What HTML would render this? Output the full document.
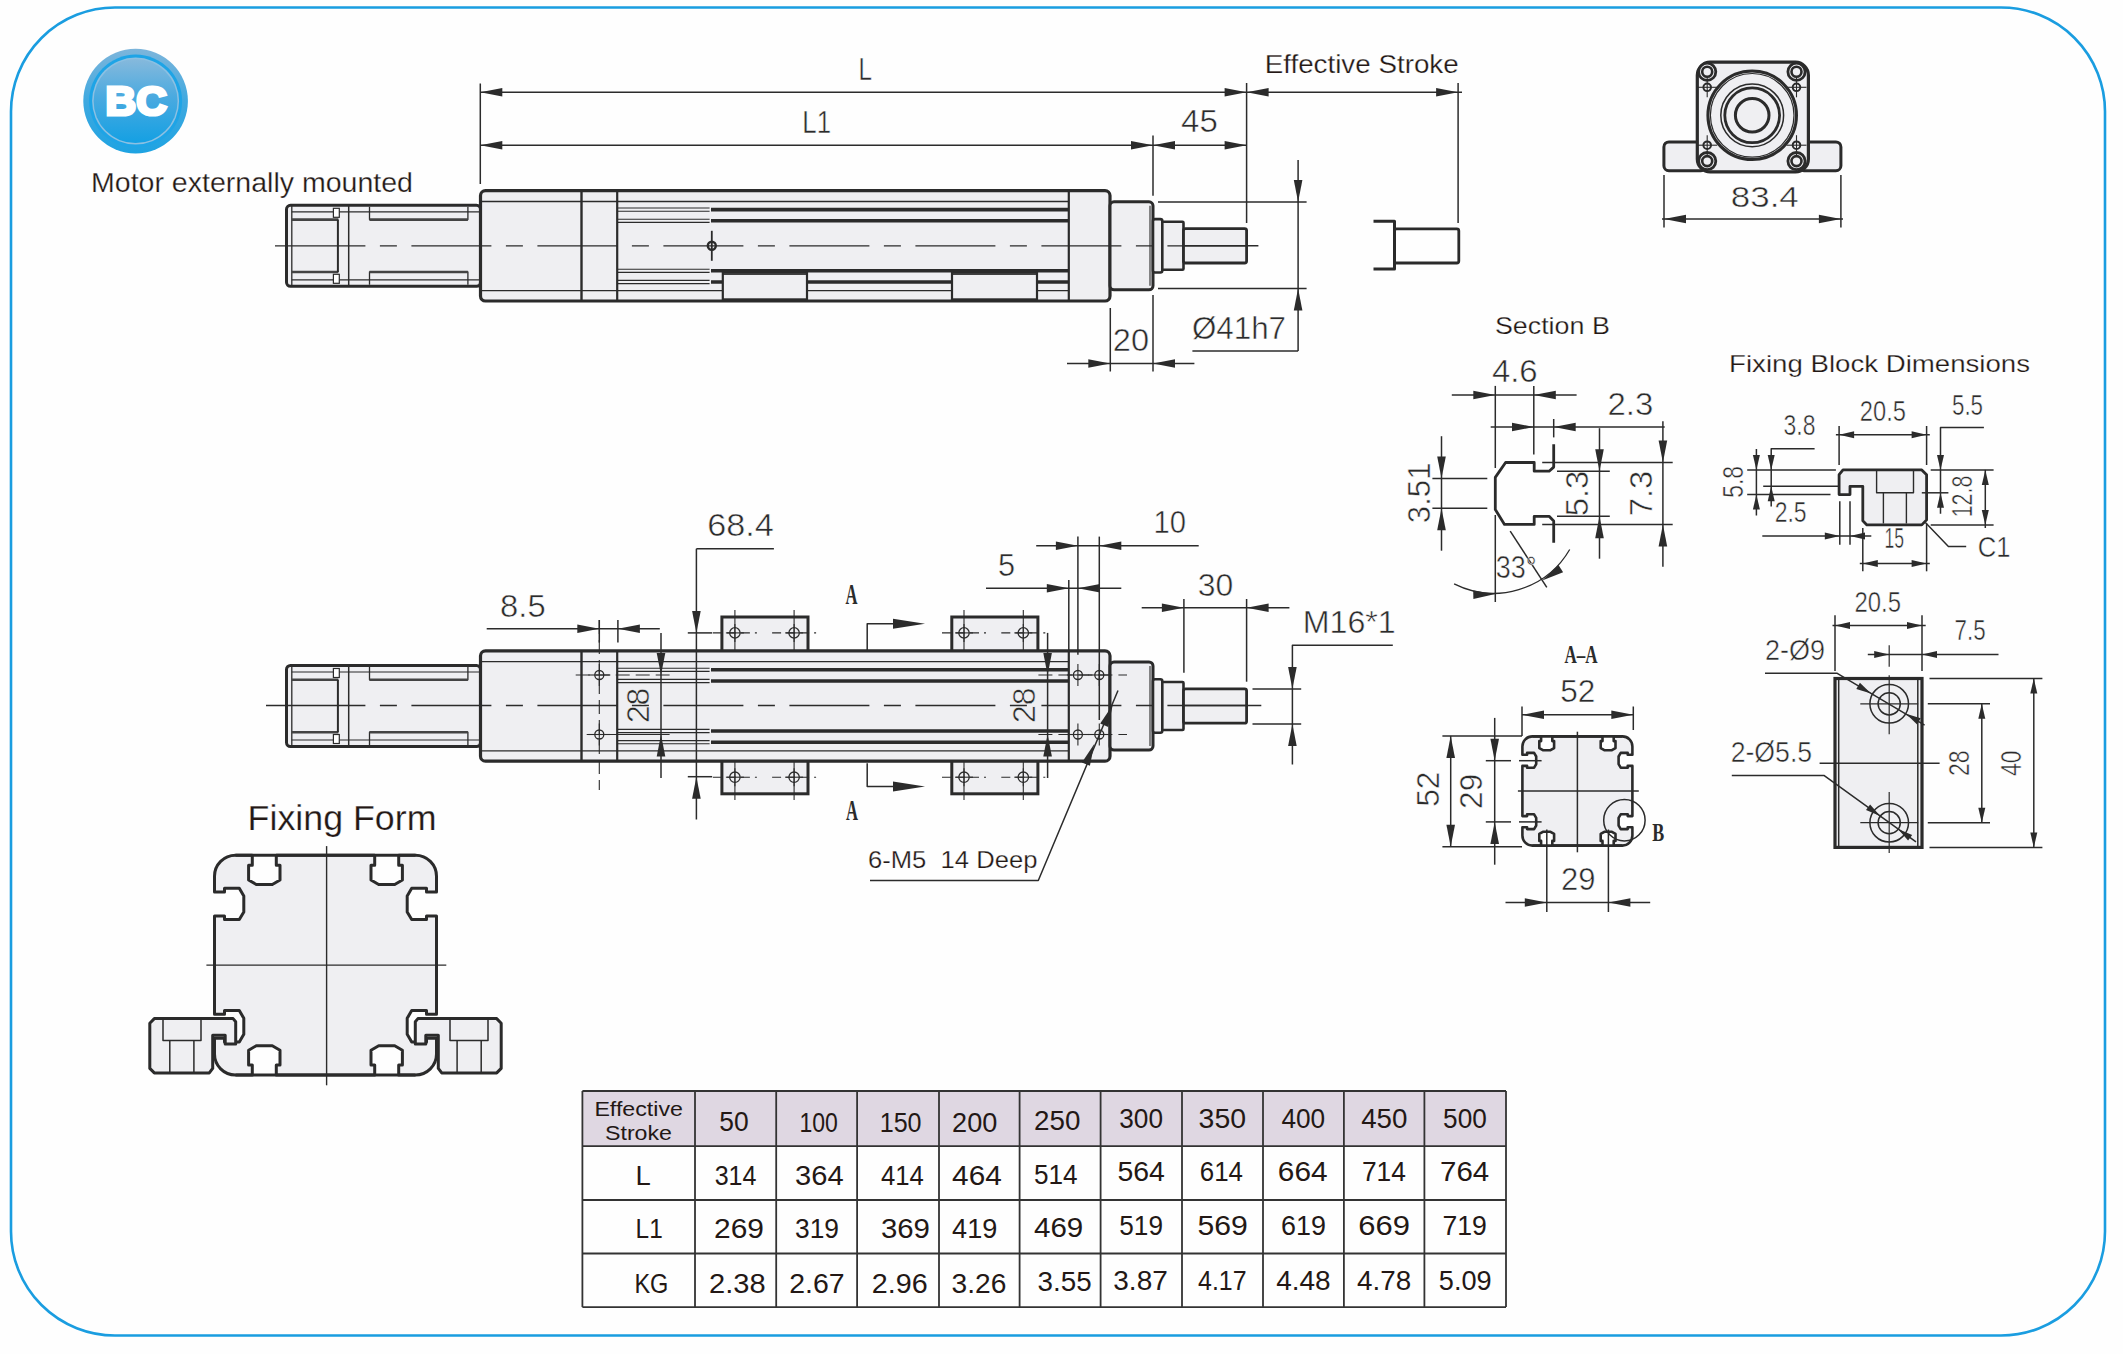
<!DOCTYPE html>
<html><head><meta charset="utf-8"><style>
html,body{margin:0;padding:0;background:#fefefe;width:2123px;height:1354px;overflow:hidden}
svg{display:block}
.dt{stroke:#fefefe;stroke-width:0.5px;paint-order:normal}
.lb{stroke:#fefefe;stroke-width:0.25px;paint-order:normal}
</style></head><body>
<svg width="2123" height="1354" viewBox="0 0 2123 1354">
<rect x="11" y="7.5" width="2094" height="1328" rx="104" fill="none" stroke="#1a9de0" stroke-width="2.6"/>
<defs>
<linearGradient id="gO" x1="0" y1="0" x2="0" y2="1"><stop offset="0" stop-color="#7db5db"/><stop offset="0.5" stop-color="#3fa9e0"/><stop offset="1" stop-color="#1ea3e2"/></linearGradient>
<linearGradient id="gI" x1="0" y1="0" x2="0" y2="1"><stop offset="0" stop-color="#86b9dc"/><stop offset="0.45" stop-color="#4aaae0"/><stop offset="1" stop-color="#14a0e3"/></linearGradient>
</defs>
<circle cx="135.6" cy="101.1" r="52.3" fill="url(#gO)"/>
<circle cx="135.6" cy="101.1" r="46.5" fill="#1ea4e6"/>
<circle cx="135.6" cy="101.1" r="43.5" fill="#8cc0e2"/>
<circle cx="135.6" cy="101.1" r="42" fill="url(#gI)"/>
<text x="105.6" y="114.6" font-family="Liberation Sans" font-size="40" font-weight="bold" fill="#ffffff" text-anchor="start" textLength="61.2" lengthAdjust="spacingAndGlyphs" stroke="#ffffff" stroke-width="3.2" stroke-linejoin="miter">BC</text>
<text x="91.0" y="192.0" font-family="Liberation Sans" font-size="27" font-weight="normal" fill="#231815" text-anchor="start" textLength="322" lengthAdjust="spacingAndGlyphs" class="lb">Motor externally mounted</text>
<rect x="286.5" y="205.3" width="194.0" height="81.0" rx="4" stroke="#2b2b2b" stroke-width="3" fill="#efeff2"/>
<line x1="291.8" y1="205.3" x2="291.8" y2="286.3" stroke="#2b2b2b" stroke-width="1.3" />
<line x1="291.8" y1="211.8" x2="479.0" y2="211.8" stroke="#2b2b2b" stroke-width="1.2" />
<line x1="291.8" y1="279.8" x2="479.0" y2="279.8" stroke="#2b2b2b" stroke-width="1.2" />
<line x1="291.8" y1="219.6" x2="338.4" y2="219.6" stroke="#444" stroke-width="2.6" />
<line x1="291.8" y1="272.0" x2="338.4" y2="272.0" stroke="#444" stroke-width="2.6" />
<line x1="337.9" y1="219.6" x2="337.9" y2="272.0" stroke="#2b2b2b" stroke-width="2" />
<rect x="333.4" y="208.3" width="5.9" height="9.0" rx="0" stroke="#2b2b2b" stroke-width="1.2" fill="#fff"/>
<rect x="333.4" y="274.3" width="5.9" height="9.0" rx="0" stroke="#2b2b2b" stroke-width="1.2" fill="#fff"/>
<line x1="348.7" y1="205.3" x2="348.7" y2="286.3" stroke="#2b2b2b" stroke-width="1.5" />
<path d="M369.5,206.8 L369.5,219.6 L467.9,219.6 L467.9,206.8" stroke="#2b2b2b" stroke-width="1.3" fill="none" stroke-linejoin="round" />
<line x1="369.5" y1="219.6" x2="467.9" y2="219.6" stroke="#444" stroke-width="2.6" />
<path d="M369.5,284.8 L369.5,272.0 L467.9,272.0 L467.9,284.8" stroke="#2b2b2b" stroke-width="1.3" fill="none" stroke-linejoin="round" />
<line x1="369.5" y1="272.0" x2="467.9" y2="272.0" stroke="#444" stroke-width="2.6" />
<rect x="480.5" y="190.6" width="629.5" height="110.4" rx="5" stroke="#2b2b2b" stroke-width="3.2" fill="#efeff2"/>
<line x1="480.5" y1="201.5" x2="1068.8" y2="201.5" stroke="#2b2b2b" stroke-width="1.3" />
<line x1="480.5" y1="290.6" x2="1068.8" y2="290.6" stroke="#2b2b2b" stroke-width="1.3" />
<line x1="581.5" y1="190.6" x2="581.5" y2="301.0" stroke="#2b2b2b" stroke-width="2.4" />
<line x1="617.2" y1="190.6" x2="617.2" y2="301.0" stroke="#2b2b2b" stroke-width="2.2" />
<line x1="1068.8" y1="190.6" x2="1068.8" y2="301.0" stroke="#2b2b2b" stroke-width="2.2" />
<line x1="617.2" y1="208.0" x2="709.6" y2="208.0" stroke="#2b2b2b" stroke-width="1.1" />
<line x1="617.2" y1="211.2" x2="709.6" y2="211.2" stroke="#2b2b2b" stroke-width="1.1" />
<line x1="711.0" y1="209.6" x2="1068.8" y2="209.6" stroke="#2b2b2b" stroke-width="3.6" />
<line x1="617.2" y1="219.2" x2="709.6" y2="219.2" stroke="#2b2b2b" stroke-width="1.1" />
<line x1="617.2" y1="222.4" x2="709.6" y2="222.4" stroke="#2b2b2b" stroke-width="1.1" />
<line x1="711.0" y1="220.8" x2="1068.8" y2="220.8" stroke="#2b2b2b" stroke-width="3.6" />
<line x1="617.2" y1="280.4" x2="709.6" y2="280.4" stroke="#2b2b2b" stroke-width="1.1" />
<line x1="617.2" y1="283.6" x2="709.6" y2="283.6" stroke="#2b2b2b" stroke-width="1.1" />
<line x1="711.0" y1="282.0" x2="1068.8" y2="282.0" stroke="#2b2b2b" stroke-width="3.6" />
<line x1="617.2" y1="269.2" x2="709.6" y2="269.2" stroke="#2b2b2b" stroke-width="1.1" />
<line x1="617.2" y1="272.4" x2="709.6" y2="272.4" stroke="#2b2b2b" stroke-width="1.1" />
<line x1="711.0" y1="270.8" x2="1068.8" y2="270.8" stroke="#2b2b2b" stroke-width="3.6" />
<circle cx="711.8" cy="245.8" r="4" fill="none" stroke="#2b2b2b" stroke-width="2.4"/>
<line x1="711.8" y1="230.8" x2="711.8" y2="260.8" stroke="#2b2b2b" stroke-width="1.8" />
<rect x="722.8" y="272.8" width="84.2" height="26.6" rx="0" stroke="#2b2b2b" stroke-width="2.2" fill="#efeff2"/>
<line x1="722.8" y1="274.4" x2="807.0" y2="274.4" stroke="#2b2b2b" stroke-width="1.0" />
<rect x="952.0" y="272.8" width="85.0" height="26.6" rx="0" stroke="#2b2b2b" stroke-width="2.2" fill="#efeff2"/>
<line x1="952.0" y1="274.4" x2="1037.0" y2="274.4" stroke="#2b2b2b" stroke-width="1.0" />
<rect x="1110.0" y="201.8" width="43.0" height="88.0" rx="4" stroke="#2b2b2b" stroke-width="3" fill="#efeff2"/>
<rect x="1153.0" y="219.1" width="9.3" height="53.4" rx="2" stroke="#2b2b2b" stroke-width="2.6" fill="#efeff2"/>
<rect x="1162.3" y="221.8" width="21.2" height="48.0" rx="1" stroke="#2b2b2b" stroke-width="2.6" fill="#efeff2"/>
<rect x="1183.5" y="228.6" width="63.1" height="34.4" rx="2" stroke="#2b2b2b" stroke-width="2.8" fill="#efeff2"/>
<line x1="1150.0" y1="205.8" x2="1150.0" y2="285.8" stroke="#2b2b2b" stroke-width="1.1" />
<path d="M275.0,245.8 H365.4 M379.9,245.8 H396.9 M411.4,245.8 H491.4 M505.9,245.8 H522.9 M537.4,245.8 H617.4 M631.9,245.8 H648.9 M663.4,245.8 H743.4 M757.9,245.8 H774.9 M789.4,245.8 H869.4 M883.9,245.8 H900.9 M915.4,245.8 H995.4 M1009.9,245.8 H1026.9 M1041.4,245.8 H1121.4 M1135.9,245.8 H1152.9 M1167.4,245.8 H1247.4" stroke="#2b2b2b" stroke-width="1.3"/>
<line x1="1183.0" y1="245.8" x2="1258.4" y2="245.8" stroke="#2b2b2b" stroke-width="1.5" />
<line x1="480.3" y1="83.5" x2="480.3" y2="184.0" stroke="#2b2b2b" stroke-width="1.5" />
<line x1="480.3" y1="92.2" x2="1246.6" y2="92.2" stroke="#2b2b2b" stroke-width="1.5" />
<path d="M480.3,92.2 L502.3,87.9 L502.3,96.5 Z" fill="#2b2b2b"/>
<path d="M1246.6,92.2 L1224.6,96.5 L1224.6,87.9 Z" fill="#2b2b2b"/>
<line x1="480.3" y1="145.2" x2="1153.0" y2="145.2" stroke="#2b2b2b" stroke-width="1.5" />
<path d="M480.3,145.2 L502.3,140.9 L502.3,149.5 Z" fill="#2b2b2b"/>
<path d="M1153.0,145.2 L1131.0,149.5 L1131.0,140.9 Z" fill="#2b2b2b"/>
<line x1="1246.6" y1="83.0" x2="1246.6" y2="223.0" stroke="#2b2b2b" stroke-width="1.5" />
<line x1="1153.0" y1="135.4" x2="1153.0" y2="195.7" stroke="#2b2b2b" stroke-width="1.5" />
<line x1="1153.0" y1="145.2" x2="1246.6" y2="145.2" stroke="#2b2b2b" stroke-width="1.5" />
<path d="M1153.0,145.2 L1175.0,140.9 L1175.0,149.5 Z" fill="#2b2b2b"/>
<path d="M1246.6,145.2 L1224.6,149.5 L1224.6,140.9 Z" fill="#2b2b2b"/>
<line x1="1246.6" y1="92.2" x2="1462.0" y2="92.2" stroke="#2b2b2b" stroke-width="1.5" />
<path d="M1246.6,92.2 L1268.6,87.9 L1268.6,96.5 Z" fill="#2b2b2b"/>
<path d="M1458.1,92.2 L1436.1,96.5 L1436.1,87.9 Z" fill="#2b2b2b"/>
<line x1="1458.1" y1="83.0" x2="1458.1" y2="223.0" stroke="#2b2b2b" stroke-width="1.5" />
<text x="858.5" y="80.3" font-family="Liberation Sans" font-size="31.5" font-weight="normal" fill="#2b2b2b" text-anchor="start" textLength="13.5" lengthAdjust="spacingAndGlyphs" class="dt">L</text>
<text x="802.3" y="132.8" font-family="Liberation Sans" font-size="31.5" font-weight="normal" fill="#2b2b2b" text-anchor="start" textLength="28.7" lengthAdjust="spacingAndGlyphs" class="dt">L1</text>
<text x="1181.1" y="132.4" font-family="Liberation Sans" font-size="31" font-weight="normal" fill="#2b2b2b" text-anchor="start" textLength="36.7" lengthAdjust="spacingAndGlyphs" class="dt">45</text>
<text x="1264.7" y="72.6" font-family="Liberation Sans" font-size="25.5" font-weight="normal" fill="#231815" text-anchor="start" textLength="194" lengthAdjust="spacingAndGlyphs" class="lb">Effective Stroke</text>
<path d="M1373.5,221.3 L1394.5,221.3 L1394.5,269.0 L1373.5,269.0" stroke="#2b2b2b" stroke-width="3" fill="none" stroke-linejoin="round" />
<rect x="1394.5" y="228.8" width="64.3" height="34.2" rx="2" stroke="#2b2b2b" stroke-width="2.8" fill="none"/>
<line x1="1158.0" y1="202.0" x2="1306.6" y2="202.0" stroke="#2b2b2b" stroke-width="1.5" />
<line x1="1158.0" y1="288.6" x2="1306.6" y2="288.6" stroke="#2b2b2b" stroke-width="1.5" />
<line x1="1298.1" y1="160.0" x2="1298.1" y2="350.9" stroke="#2b2b2b" stroke-width="1.5" />
<path d="M1298.1,202.0 L1293.8,180.0 L1302.4,180.0 Z" fill="#2b2b2b"/>
<path d="M1298.1,288.6 L1302.4,310.6 L1293.8,310.6 Z" fill="#2b2b2b"/>
<line x1="1192.4" y1="350.9" x2="1298.1" y2="350.9" stroke="#2b2b2b" stroke-width="1.5" />
<text x="1191.9" y="338.8" font-family="Liberation Sans" font-size="31" font-weight="normal" fill="#2b2b2b" text-anchor="start" textLength="94.1" lengthAdjust="spacingAndGlyphs" class="dt">&#216;41h7</text>
<line x1="1110.3" y1="308.0" x2="1110.3" y2="371.5" stroke="#2b2b2b" stroke-width="1.5" />
<line x1="1153.0" y1="295.0" x2="1153.0" y2="371.5" stroke="#2b2b2b" stroke-width="1.5" />
<line x1="1067.0" y1="363.5" x2="1194.4" y2="363.5" stroke="#2b2b2b" stroke-width="1.5" />
<path d="M1110.3,363.5 L1088.3,367.8 L1088.3,359.2 Z" fill="#2b2b2b"/>
<path d="M1153.0,363.5 L1175.0,359.2 L1175.0,367.8 Z" fill="#2b2b2b"/>
<text x="1112.8" y="350.9" font-family="Liberation Sans" font-size="31" font-weight="normal" fill="#2b2b2b" text-anchor="start" textLength="36.2" lengthAdjust="spacingAndGlyphs" class="dt">20</text>
<rect x="1663.9" y="141.9" width="42" height="28.8" rx="5" fill="#efeff2" stroke="#2b2b2b" stroke-width="3"/>
<rect x="1799" y="141.9" width="41.9" height="28.8" rx="5" fill="#efeff2" stroke="#2b2b2b" stroke-width="3"/>
<rect x="1697.3" y="62.2" width="111.1" height="109.7" rx="13" stroke="#2b2b2b" stroke-width="3.2" fill="#efeff2"/>
<circle cx="1707.2" cy="71.8" r="8.6" stroke="#2b2b2b" stroke-width="2.8" fill="#efeff2"/>
<circle cx="1707.2" cy="71.8" r="5.0" stroke="#2b2b2b" stroke-width="2.6" fill="none"/>
<circle cx="1707.2" cy="161.1" r="8.6" stroke="#2b2b2b" stroke-width="2.8" fill="#efeff2"/>
<circle cx="1707.2" cy="161.1" r="5.0" stroke="#2b2b2b" stroke-width="2.6" fill="none"/>
<circle cx="1707.2" cy="87.3" r="3.8" stroke="#2b2b2b" stroke-width="2.0" fill="none"/>
<line x1="1707.2" y1="77.3" x2="1707.2" y2="97.3" stroke="#2b2b2b" stroke-width="1.1" />
<line x1="1697.2" y1="87.3" x2="1717.2" y2="87.3" stroke="#2b2b2b" stroke-width="1.1" />
<circle cx="1707.2" cy="145.2" r="3.8" stroke="#2b2b2b" stroke-width="2.0" fill="none"/>
<line x1="1707.2" y1="135.2" x2="1707.2" y2="155.2" stroke="#2b2b2b" stroke-width="1.1" />
<line x1="1697.2" y1="145.2" x2="1717.2" y2="145.2" stroke="#2b2b2b" stroke-width="1.1" />
<circle cx="1796.5" cy="71.8" r="8.6" stroke="#2b2b2b" stroke-width="2.8" fill="#efeff2"/>
<circle cx="1796.5" cy="71.8" r="5.0" stroke="#2b2b2b" stroke-width="2.6" fill="none"/>
<circle cx="1796.5" cy="161.1" r="8.6" stroke="#2b2b2b" stroke-width="2.8" fill="#efeff2"/>
<circle cx="1796.5" cy="161.1" r="5.0" stroke="#2b2b2b" stroke-width="2.6" fill="none"/>
<circle cx="1796.5" cy="87.3" r="3.8" stroke="#2b2b2b" stroke-width="2.0" fill="none"/>
<line x1="1796.5" y1="77.3" x2="1796.5" y2="97.3" stroke="#2b2b2b" stroke-width="1.1" />
<line x1="1786.5" y1="87.3" x2="1806.5" y2="87.3" stroke="#2b2b2b" stroke-width="1.1" />
<circle cx="1796.5" cy="145.2" r="3.8" stroke="#2b2b2b" stroke-width="2.0" fill="none"/>
<line x1="1796.5" y1="135.2" x2="1796.5" y2="155.2" stroke="#2b2b2b" stroke-width="1.1" />
<line x1="1786.5" y1="145.2" x2="1806.5" y2="145.2" stroke="#2b2b2b" stroke-width="1.1" />
<circle cx="1752.2" cy="115.3" r="44.3" stroke="#2b2b2b" stroke-width="3" fill="none"/>
<circle cx="1752.2" cy="115.3" r="41.8" stroke="#2b2b2b" stroke-width="1.2" fill="none"/>
<circle cx="1752.2" cy="115.3" r="31.4" stroke="#2b2b2b" stroke-width="1.5" fill="none"/>
<circle cx="1752.2" cy="115.3" r="27.4" stroke="#2b2b2b" stroke-width="2.8" fill="none"/>
<circle cx="1752.2" cy="115.3" r="16.8" stroke="#2b2b2b" stroke-width="3" fill="none"/>
<line x1="1664.0" y1="175.0" x2="1664.0" y2="227.6" stroke="#2b2b2b" stroke-width="1.5" />
<line x1="1840.9" y1="175.0" x2="1840.9" y2="227.6" stroke="#2b2b2b" stroke-width="1.5" />
<line x1="1662.0" y1="219.0" x2="1843.0" y2="219.0" stroke="#2b2b2b" stroke-width="1.5" />
<path d="M1664.0,219.0 L1686.0,214.7 L1686.0,223.3 Z" fill="#2b2b2b"/>
<path d="M1840.9,219.0 L1818.9,223.3 L1818.9,214.7 Z" fill="#2b2b2b"/>
<text x="1730.8" y="206.6" font-family="Liberation Sans" font-size="30" font-weight="normal" fill="#2b2b2b" text-anchor="start" textLength="68.0" lengthAdjust="spacingAndGlyphs" class="dt">83.4</text>
<rect x="721.9" y="617.0" width="86.1" height="35.0" rx="0" stroke="#2b2b2b" stroke-width="3" fill="#efeff2"/>
<rect x="721.9" y="760.0" width="86.1" height="33.8" rx="0" stroke="#2b2b2b" stroke-width="3" fill="#efeff2"/>
<circle cx="734.9" cy="632.9" r="5.2" stroke="#2b2b2b" stroke-width="1.3" fill="none"/>
<line x1="725.9" y1="632.9" x2="743.9" y2="632.9" stroke="#2b2b2b" stroke-width="1.1" />
<line x1="734.9" y1="623.9" x2="734.9" y2="641.9" stroke="#2b2b2b" stroke-width="1.1" />
<circle cx="734.9" cy="777.2" r="5.2" stroke="#2b2b2b" stroke-width="1.3" fill="none"/>
<line x1="725.9" y1="777.2" x2="743.9" y2="777.2" stroke="#2b2b2b" stroke-width="1.1" />
<line x1="734.9" y1="768.2" x2="734.9" y2="786.2" stroke="#2b2b2b" stroke-width="1.1" />
<line x1="712.9" y1="632.9" x2="756.9" y2="632.9" stroke="#2b2b2b" stroke-width="1.1" stroke-dasharray="9 5"/>
<line x1="712.9" y1="777.2" x2="756.9" y2="777.2" stroke="#2b2b2b" stroke-width="1.1" stroke-dasharray="9 5"/>
<line x1="734.9" y1="610.0" x2="734.9" y2="656.0" stroke="#2b2b2b" stroke-width="1.1" />
<line x1="734.9" y1="756.0" x2="734.9" y2="800.0" stroke="#2b2b2b" stroke-width="1.1" />
<circle cx="794.1" cy="632.9" r="5.2" stroke="#2b2b2b" stroke-width="1.3" fill="none"/>
<line x1="785.1" y1="632.9" x2="803.1" y2="632.9" stroke="#2b2b2b" stroke-width="1.1" />
<line x1="794.1" y1="623.9" x2="794.1" y2="641.9" stroke="#2b2b2b" stroke-width="1.1" />
<circle cx="794.1" cy="777.2" r="5.2" stroke="#2b2b2b" stroke-width="1.3" fill="none"/>
<line x1="785.1" y1="777.2" x2="803.1" y2="777.2" stroke="#2b2b2b" stroke-width="1.1" />
<line x1="794.1" y1="768.2" x2="794.1" y2="786.2" stroke="#2b2b2b" stroke-width="1.1" />
<line x1="772.1" y1="632.9" x2="816.1" y2="632.9" stroke="#2b2b2b" stroke-width="1.1" stroke-dasharray="9 5"/>
<line x1="772.1" y1="777.2" x2="816.1" y2="777.2" stroke="#2b2b2b" stroke-width="1.1" stroke-dasharray="9 5"/>
<line x1="794.1" y1="610.0" x2="794.1" y2="656.0" stroke="#2b2b2b" stroke-width="1.1" />
<line x1="794.1" y1="756.0" x2="794.1" y2="800.0" stroke="#2b2b2b" stroke-width="1.1" />
<rect x="951.8" y="617.0" width="86.1" height="35.0" rx="0" stroke="#2b2b2b" stroke-width="3" fill="#efeff2"/>
<rect x="951.8" y="760.0" width="86.1" height="33.8" rx="0" stroke="#2b2b2b" stroke-width="3" fill="#efeff2"/>
<circle cx="964.0" cy="632.9" r="5.2" stroke="#2b2b2b" stroke-width="1.3" fill="none"/>
<line x1="955.0" y1="632.9" x2="973.0" y2="632.9" stroke="#2b2b2b" stroke-width="1.1" />
<line x1="964.0" y1="623.9" x2="964.0" y2="641.9" stroke="#2b2b2b" stroke-width="1.1" />
<circle cx="964.0" cy="777.2" r="5.2" stroke="#2b2b2b" stroke-width="1.3" fill="none"/>
<line x1="955.0" y1="777.2" x2="973.0" y2="777.2" stroke="#2b2b2b" stroke-width="1.1" />
<line x1="964.0" y1="768.2" x2="964.0" y2="786.2" stroke="#2b2b2b" stroke-width="1.1" />
<line x1="942.0" y1="632.9" x2="986.0" y2="632.9" stroke="#2b2b2b" stroke-width="1.1" stroke-dasharray="9 5"/>
<line x1="942.0" y1="777.2" x2="986.0" y2="777.2" stroke="#2b2b2b" stroke-width="1.1" stroke-dasharray="9 5"/>
<line x1="964.0" y1="610.0" x2="964.0" y2="656.0" stroke="#2b2b2b" stroke-width="1.1" />
<line x1="964.0" y1="756.0" x2="964.0" y2="800.0" stroke="#2b2b2b" stroke-width="1.1" />
<circle cx="1023.3" cy="632.9" r="5.2" stroke="#2b2b2b" stroke-width="1.3" fill="none"/>
<line x1="1014.3" y1="632.9" x2="1032.3" y2="632.9" stroke="#2b2b2b" stroke-width="1.1" />
<line x1="1023.3" y1="623.9" x2="1023.3" y2="641.9" stroke="#2b2b2b" stroke-width="1.1" />
<circle cx="1023.3" cy="777.2" r="5.2" stroke="#2b2b2b" stroke-width="1.3" fill="none"/>
<line x1="1014.3" y1="777.2" x2="1032.3" y2="777.2" stroke="#2b2b2b" stroke-width="1.1" />
<line x1="1023.3" y1="768.2" x2="1023.3" y2="786.2" stroke="#2b2b2b" stroke-width="1.1" />
<line x1="1001.3" y1="632.9" x2="1045.3" y2="632.9" stroke="#2b2b2b" stroke-width="1.1" stroke-dasharray="9 5"/>
<line x1="1001.3" y1="777.2" x2="1045.3" y2="777.2" stroke="#2b2b2b" stroke-width="1.1" stroke-dasharray="9 5"/>
<line x1="1023.3" y1="610.0" x2="1023.3" y2="656.0" stroke="#2b2b2b" stroke-width="1.1" />
<line x1="1023.3" y1="756.0" x2="1023.3" y2="800.0" stroke="#2b2b2b" stroke-width="1.1" />
<rect x="286.5" y="665.5" width="194.0" height="81.0" rx="4" stroke="#2b2b2b" stroke-width="3" fill="#efeff2"/>
<line x1="291.8" y1="665.5" x2="291.8" y2="746.5" stroke="#2b2b2b" stroke-width="1.3" />
<line x1="291.8" y1="672.0" x2="479.0" y2="672.0" stroke="#2b2b2b" stroke-width="1.2" />
<line x1="291.8" y1="740.0" x2="479.0" y2="740.0" stroke="#2b2b2b" stroke-width="1.2" />
<line x1="291.8" y1="679.8" x2="338.4" y2="679.8" stroke="#444" stroke-width="2.6" />
<line x1="291.8" y1="732.2" x2="338.4" y2="732.2" stroke="#444" stroke-width="2.6" />
<line x1="337.9" y1="679.8" x2="337.9" y2="732.2" stroke="#2b2b2b" stroke-width="2" />
<rect x="333.4" y="668.5" width="5.9" height="9.0" rx="0" stroke="#2b2b2b" stroke-width="1.2" fill="#fff"/>
<rect x="333.4" y="734.5" width="5.9" height="9.0" rx="0" stroke="#2b2b2b" stroke-width="1.2" fill="#fff"/>
<line x1="348.7" y1="665.5" x2="348.7" y2="746.5" stroke="#2b2b2b" stroke-width="1.5" />
<path d="M369.5,667.0 L369.5,679.8 L467.9,679.8 L467.9,667.0" stroke="#2b2b2b" stroke-width="1.3" fill="none" stroke-linejoin="round" />
<line x1="369.5" y1="679.8" x2="467.9" y2="679.8" stroke="#444" stroke-width="2.6" />
<path d="M369.5,745.0 L369.5,732.2 L467.9,732.2 L467.9,745.0" stroke="#2b2b2b" stroke-width="1.3" fill="none" stroke-linejoin="round" />
<line x1="369.5" y1="732.2" x2="467.9" y2="732.2" stroke="#444" stroke-width="2.6" />
<rect x="480.5" y="650.8" width="629.5" height="110.4" rx="5" stroke="#2b2b2b" stroke-width="3.2" fill="#efeff2"/>
<line x1="480.5" y1="661.7" x2="1068.8" y2="661.7" stroke="#2b2b2b" stroke-width="1.3" />
<line x1="480.5" y1="750.8" x2="1068.8" y2="750.8" stroke="#2b2b2b" stroke-width="1.3" />
<line x1="581.5" y1="650.8" x2="581.5" y2="761.2" stroke="#2b2b2b" stroke-width="2.4" />
<line x1="617.2" y1="650.8" x2="617.2" y2="761.2" stroke="#2b2b2b" stroke-width="2.2" />
<line x1="1068.8" y1="650.8" x2="1068.8" y2="761.2" stroke="#2b2b2b" stroke-width="2.2" />
<line x1="617.2" y1="668.2" x2="709.6" y2="668.2" stroke="#2b2b2b" stroke-width="1.1" />
<line x1="617.2" y1="671.4" x2="709.6" y2="671.4" stroke="#2b2b2b" stroke-width="1.1" />
<line x1="711.0" y1="669.8" x2="1068.8" y2="669.8" stroke="#2b2b2b" stroke-width="3.6" />
<line x1="617.2" y1="679.4" x2="709.6" y2="679.4" stroke="#2b2b2b" stroke-width="1.1" />
<line x1="617.2" y1="682.6" x2="709.6" y2="682.6" stroke="#2b2b2b" stroke-width="1.1" />
<line x1="711.0" y1="681.0" x2="1068.8" y2="681.0" stroke="#2b2b2b" stroke-width="3.6" />
<line x1="617.2" y1="740.6" x2="709.6" y2="740.6" stroke="#2b2b2b" stroke-width="1.1" />
<line x1="617.2" y1="743.8" x2="709.6" y2="743.8" stroke="#2b2b2b" stroke-width="1.1" />
<line x1="711.0" y1="742.2" x2="1068.8" y2="742.2" stroke="#2b2b2b" stroke-width="3.6" />
<line x1="617.2" y1="729.4" x2="709.6" y2="729.4" stroke="#2b2b2b" stroke-width="1.1" />
<line x1="617.2" y1="732.6" x2="709.6" y2="732.6" stroke="#2b2b2b" stroke-width="1.1" />
<line x1="711.0" y1="731.0" x2="1068.8" y2="731.0" stroke="#2b2b2b" stroke-width="3.6" />
<rect x="1110.0" y="662.0" width="43.0" height="88.0" rx="4" stroke="#2b2b2b" stroke-width="3" fill="#efeff2"/>
<rect x="1153.0" y="679.3" width="9.3" height="53.4" rx="2" stroke="#2b2b2b" stroke-width="2.6" fill="#efeff2"/>
<rect x="1162.3" y="682.0" width="21.2" height="48.0" rx="1" stroke="#2b2b2b" stroke-width="2.6" fill="#efeff2"/>
<rect x="1183.5" y="688.8" width="63.1" height="34.4" rx="2" stroke="#2b2b2b" stroke-width="2.8" fill="#efeff2"/>
<line x1="1150.0" y1="666.0" x2="1150.0" y2="746.0" stroke="#2b2b2b" stroke-width="1.1" />
<path d="M266.0,705.5 H365.4 M379.9,705.5 H396.9 M411.4,705.5 H491.4 M505.9,705.5 H522.9 M537.4,705.5 H617.4 M631.9,705.5 H648.9 M663.4,705.5 H743.4 M757.9,705.5 H774.9 M789.4,705.5 H869.4 M883.9,705.5 H900.9 M915.4,705.5 H995.4 M1009.9,705.5 H1026.9 M1041.4,705.5 H1121.4 M1135.9,705.5 H1152.9 M1167.4,705.5 H1247.4" stroke="#2b2b2b" stroke-width="1.3"/>
<line x1="1183.0" y1="705.5" x2="1261.3" y2="705.5" stroke="#2b2b2b" stroke-width="1.5" />
<circle cx="599.3" cy="675.0" r="4.5" stroke="#2b2b2b" stroke-width="1.3" fill="none"/>
<line x1="588.3" y1="675.0" x2="610.3" y2="675.0" stroke="#2b2b2b" stroke-width="1.1" />
<line x1="599.3" y1="664.0" x2="599.3" y2="686.0" stroke="#2b2b2b" stroke-width="1.1" />
<circle cx="1077.9" cy="675.0" r="4.5" stroke="#2b2b2b" stroke-width="1.3" fill="none"/>
<line x1="1066.9" y1="675.0" x2="1088.9" y2="675.0" stroke="#2b2b2b" stroke-width="1.1" />
<line x1="1077.9" y1="664.0" x2="1077.9" y2="686.0" stroke="#2b2b2b" stroke-width="1.1" />
<circle cx="1099.3" cy="675.0" r="4.5" stroke="#2b2b2b" stroke-width="1.3" fill="none"/>
<line x1="1088.3" y1="675.0" x2="1110.3" y2="675.0" stroke="#2b2b2b" stroke-width="1.1" />
<line x1="1099.3" y1="664.0" x2="1099.3" y2="686.0" stroke="#2b2b2b" stroke-width="1.1" />
<circle cx="599.3" cy="734.5" r="4.5" stroke="#2b2b2b" stroke-width="1.3" fill="none"/>
<line x1="588.3" y1="734.5" x2="610.3" y2="734.5" stroke="#2b2b2b" stroke-width="1.1" />
<line x1="599.3" y1="723.5" x2="599.3" y2="745.5" stroke="#2b2b2b" stroke-width="1.1" />
<circle cx="1077.9" cy="734.5" r="4.5" stroke="#2b2b2b" stroke-width="1.3" fill="none"/>
<line x1="1066.9" y1="734.5" x2="1088.9" y2="734.5" stroke="#2b2b2b" stroke-width="1.1" />
<line x1="1077.9" y1="723.5" x2="1077.9" y2="745.5" stroke="#2b2b2b" stroke-width="1.1" />
<circle cx="1099.3" cy="734.5" r="4.5" stroke="#2b2b2b" stroke-width="1.3" fill="none"/>
<line x1="1088.3" y1="734.5" x2="1110.3" y2="734.5" stroke="#2b2b2b" stroke-width="1.1" />
<line x1="1099.3" y1="723.5" x2="1099.3" y2="745.5" stroke="#2b2b2b" stroke-width="1.1" />
<line x1="599.3" y1="620.0" x2="599.3" y2="790.0" stroke="#2b2b2b" stroke-width="1.1" stroke-dasharray="14 6"/>
<line x1="575.7" y1="675.0" x2="669.6" y2="675.0" stroke="#2b2b2b" stroke-width="1.1" stroke-dasharray="14 6"/>
<line x1="586.7" y1="734.5" x2="669.6" y2="734.5" stroke="#2b2b2b" stroke-width="1.1" />
<line x1="1038.4" y1="675.0" x2="1127.0" y2="675.0" stroke="#2b2b2b" stroke-width="1.1" stroke-dasharray="14 6"/>
<line x1="1038.4" y1="734.5" x2="1127.0" y2="734.5" stroke="#2b2b2b" stroke-width="1.1" stroke-dasharray="14 6"/>
<line x1="486.7" y1="628.7" x2="659.8" y2="628.7" stroke="#2b2b2b" stroke-width="1.5" />
<line x1="599.3" y1="620.0" x2="599.3" y2="642.6" stroke="#2b2b2b" stroke-width="1.5" />
<line x1="617.9" y1="620.0" x2="617.9" y2="642.6" stroke="#2b2b2b" stroke-width="1.5" />
<path d="M599.3,628.7 L577.3,633.0 L577.3,624.4 Z" fill="#2b2b2b"/>
<path d="M617.9,628.7 L639.9,624.4 L639.9,633.0 Z" fill="#2b2b2b"/>
<text x="500.1" y="616.5" font-family="Liberation Sans" font-size="31" font-weight="normal" fill="#2b2b2b" text-anchor="start" textLength="45.6" lengthAdjust="spacingAndGlyphs" class="dt">8.5</text>
<line x1="661.0" y1="632.9" x2="661.0" y2="777.9" stroke="#2b2b2b" stroke-width="1.5" />
<path d="M661.0,675.0 L656.7,653.0 L665.3,653.0 Z" fill="#2b2b2b"/>
<path d="M661.0,734.5 L665.3,756.5 L656.7,756.5 Z" fill="#2b2b2b"/>
<text x="649.1" y="723.1" font-family="Liberation Sans" font-size="31" font-weight="normal" fill="#2b2b2b" text-anchor="start" textLength="35.4" lengthAdjust="spacingAndGlyphs" transform="rotate(-90 649.1 723.1)" class="dt">28</text>
<line x1="696.4" y1="548.8" x2="696.4" y2="819.4" stroke="#2b2b2b" stroke-width="1.5" />
<path d="M696.4,632.9 L692.1,610.9 L700.7,610.9 Z" fill="#2b2b2b"/>
<path d="M696.4,776.7 L700.7,798.7 L692.1,798.7 Z" fill="#2b2b2b"/>
<line x1="687.8" y1="632.9" x2="712.2" y2="632.9" stroke="#2b2b2b" stroke-width="1.5" />
<line x1="687.8" y1="776.7" x2="712.2" y2="776.7" stroke="#2b2b2b" stroke-width="1.5" />
<line x1="696.4" y1="548.8" x2="773.9" y2="548.8" stroke="#2b2b2b" stroke-width="1.5" />
<text x="707.3" y="536.1" font-family="Liberation Sans" font-size="31" font-weight="normal" fill="#2b2b2b" text-anchor="start" textLength="66.6" lengthAdjust="spacingAndGlyphs" class="dt">68.4</text>
<path d="M867.2,649.9 L867.2,623.8 L905.0,623.8" stroke="#2b2b2b" stroke-width="1.5" fill="none" stroke-linejoin="round" />
<path d="M925.0,623.8 L893.0,628.8 L893.0,618.8 Z" fill="#2b2b2b"/>
<path d="M867.2,763.3 L867.2,786.4 L905.0,786.4" stroke="#2b2b2b" stroke-width="1.5" fill="none" stroke-linejoin="round" />
<path d="M925.0,786.4 L893.0,791.4 L893.0,781.4 Z" fill="#2b2b2b"/>
<text x="845.4" y="603.6" font-family="Liberation Serif" font-size="29" font-weight="bold" fill="#2b2b2b" text-anchor="start" textLength="12" lengthAdjust="spacingAndGlyphs" >A</text>
<text x="845.9" y="819.8" font-family="Liberation Serif" font-size="29" font-weight="bold" fill="#2b2b2b" text-anchor="start" textLength="12" lengthAdjust="spacingAndGlyphs" >A</text>
<line x1="1047.6" y1="632.9" x2="1047.6" y2="778.0" stroke="#2b2b2b" stroke-width="1.5" />
<path d="M1047.6,675.0 L1043.3,653.0 L1051.9,653.0 Z" fill="#2b2b2b"/>
<path d="M1047.6,734.5 L1051.9,756.5 L1043.3,756.5 Z" fill="#2b2b2b"/>
<text x="1034.9" y="723.0" font-family="Liberation Sans" font-size="31" font-weight="normal" fill="#2b2b2b" text-anchor="start" textLength="35.5" lengthAdjust="spacingAndGlyphs" transform="rotate(-90 1034.9 723.0)" class="dt">28</text>
<line x1="986.0" y1="588.3" x2="1121.3" y2="588.3" stroke="#2b2b2b" stroke-width="1.5" />
<line x1="1068.8" y1="580.0" x2="1068.8" y2="651.0" stroke="#2b2b2b" stroke-width="1.5" />
<line x1="1077.9" y1="536.6" x2="1077.9" y2="654.8" stroke="#2b2b2b" stroke-width="1.5" />
<line x1="1099.3" y1="536.6" x2="1099.3" y2="720.0" stroke="#2b2b2b" stroke-width="1.5" />
<path d="M1068.8,588.3 L1046.8,592.6 L1046.8,584.0 Z" fill="#2b2b2b"/>
<path d="M1077.9,588.3 L1099.9,584.0 L1099.9,592.6 Z" fill="#2b2b2b"/>
<text x="998.1" y="575.6" font-family="Liberation Sans" font-size="31" font-weight="normal" fill="#2b2b2b" text-anchor="start" textLength="17.1" lengthAdjust="spacingAndGlyphs" class="dt">5</text>
<line x1="1036.2" y1="545.8" x2="1198.7" y2="545.8" stroke="#2b2b2b" stroke-width="1.5" />
<path d="M1077.9,545.8 L1055.9,550.1 L1055.9,541.5 Z" fill="#2b2b2b"/>
<path d="M1099.3,545.8 L1121.3,541.5 L1121.3,550.1 Z" fill="#2b2b2b"/>
<text x="1153.5" y="532.5" font-family="Liberation Sans" font-size="31" font-weight="normal" fill="#2b2b2b" text-anchor="start" textLength="32.5" lengthAdjust="spacingAndGlyphs" class="dt">10</text>
<line x1="1183.9" y1="599.0" x2="1183.9" y2="672.8" stroke="#2b2b2b" stroke-width="1.5" />
<line x1="1246.6" y1="599.0" x2="1246.6" y2="681.7" stroke="#2b2b2b" stroke-width="1.5" />
<line x1="1141.7" y1="607.8" x2="1289.4" y2="607.8" stroke="#2b2b2b" stroke-width="1.5" />
<path d="M1183.9,607.8 L1161.9,612.1 L1161.9,603.5 Z" fill="#2b2b2b"/>
<path d="M1246.6,607.8 L1268.6,603.5 L1268.6,612.1 Z" fill="#2b2b2b"/>
<text x="1197.8" y="596.0" font-family="Liberation Sans" font-size="31" font-weight="normal" fill="#2b2b2b" text-anchor="start" textLength="35.5" lengthAdjust="spacingAndGlyphs" class="dt">30</text>
<path d="M1392.8,645.3 L1292.4,645.3 L1292.4,764.4" stroke="#2b2b2b" stroke-width="1.5" fill="none" stroke-linejoin="round" />
<line x1="1252.5" y1="689.0" x2="1301.2" y2="689.0" stroke="#2b2b2b" stroke-width="1.5" />
<line x1="1252.5" y1="723.9" x2="1301.2" y2="723.9" stroke="#2b2b2b" stroke-width="1.5" />
<path d="M1292.4,689.0 L1288.1,667.0 L1296.7,667.0 Z" fill="#2b2b2b"/>
<path d="M1292.4,723.9 L1296.7,745.9 L1288.1,745.9 Z" fill="#2b2b2b"/>
<text x="1302.7" y="632.9" font-family="Liberation Sans" font-size="31" font-weight="normal" fill="#2b2b2b" text-anchor="start" textLength="93.1" lengthAdjust="spacingAndGlyphs" class="dt">M16*1</text>
<path d="M870.0,880.5 L1038.3,880.5 L1118.0,690.5" stroke="#2b2b2b" stroke-width="1.5" fill="none" stroke-linejoin="round" />
<path d="M1112.7,705.0 L1108.2,726.9 L1100.2,723.6 Z" fill="#2b2b2b"/>
<path d="M1094.4,743.8 L1089.9,765.7 L1081.9,762.4 Z" fill="#2b2b2b"/>
<text x="868.0" y="867.8" font-family="Liberation Sans" font-size="24.5" font-weight="normal" fill="#231815" text-anchor="start" textLength="169.4" lengthAdjust="spacingAndGlyphs" class="lb">6-M5&#160;&#160;14 Deep</text>
<text x="1494.9" y="334.3" font-family="Liberation Sans" font-size="24.5" font-weight="normal" fill="#231815" text-anchor="start" textLength="114.9" lengthAdjust="spacingAndGlyphs" class="lb">Section B</text>
<path d="M1553.7,444.2 L1553.7,467.1 L1549.1,471.2 L1534.2,471.2 L1534.2,462.5 L1505.6,462.5 L1495.3,477.4 L1495.3,509.5 L1504.5,524.4 L1534.2,524.4 L1534.2,516.3 L1549.1,516.3 L1553.7,520.9 L1553.7,542.7" stroke="#2b2b2b" stroke-width="2.8" fill="none" stroke-linejoin="round" />
<line x1="1451.8" y1="395.0" x2="1576.6" y2="395.0" stroke="#2b2b2b" stroke-width="1.5" />
<line x1="1495.3" y1="385.9" x2="1495.3" y2="468.0" stroke="#2b2b2b" stroke-width="1.5" />
<line x1="1495.3" y1="515.0" x2="1495.3" y2="602.0" stroke="#2b2b2b" stroke-width="1.5" />
<line x1="1533.8" y1="385.9" x2="1533.8" y2="454.5" stroke="#2b2b2b" stroke-width="1.5" />
<path d="M1495.3,395.0 L1473.3,399.3 L1473.3,390.7 Z" fill="#2b2b2b"/>
<path d="M1533.8,395.0 L1555.8,390.7 L1555.8,399.3 Z" fill="#2b2b2b"/>
<text x="1491.9" y="382.4" font-family="Liberation Sans" font-size="31" font-weight="normal" fill="#2b2b2b" text-anchor="start" textLength="45.8" lengthAdjust="spacingAndGlyphs" class="dt">4.6</text>
<line x1="1490.7" y1="427.0" x2="1664.7" y2="427.0" stroke="#2b2b2b" stroke-width="1.5" />
<path d="M1534.0,427.0 L1512.0,431.3 L1512.0,422.7 Z" fill="#2b2b2b"/>
<path d="M1553.7,427.0 L1575.7,422.7 L1575.7,431.3 Z" fill="#2b2b2b"/>
<line x1="1553.7" y1="419.0" x2="1553.7" y2="437.4" stroke="#2b2b2b" stroke-width="1.5" />
<text x="1607.5" y="414.5" font-family="Liberation Sans" font-size="31" font-weight="normal" fill="#2b2b2b" text-anchor="start" textLength="45.8" lengthAdjust="spacingAndGlyphs" class="dt">2.3</text>
<line x1="1599.5" y1="428.2" x2="1599.5" y2="558.7" stroke="#2b2b2b" stroke-width="1.5" />
<path d="M1599.5,471.2 L1595.2,449.2 L1603.8,449.2 Z" fill="#2b2b2b"/>
<path d="M1599.5,516.3 L1603.8,538.3 L1595.2,538.3 Z" fill="#2b2b2b"/>
<line x1="1557.0" y1="471.2" x2="1609.8" y2="471.2" stroke="#2b2b2b" stroke-width="1.5" />
<line x1="1557.0" y1="516.3" x2="1609.8" y2="516.3" stroke="#2b2b2b" stroke-width="1.5" />
<text x="1587.8" y="516.3" font-family="Liberation Sans" font-size="31" font-weight="normal" fill="#2b2b2b" text-anchor="start" textLength="45.7" lengthAdjust="spacingAndGlyphs" transform="rotate(-90 1587.8 516.3)" class="dt">5.3</text>
<line x1="1662.9" y1="421.3" x2="1662.9" y2="566.7" stroke="#2b2b2b" stroke-width="1.5" />
<path d="M1662.9,462.5 L1658.6,440.5 L1667.2,440.5 Z" fill="#2b2b2b"/>
<path d="M1662.9,524.4 L1667.2,546.4 L1658.6,546.4 Z" fill="#2b2b2b"/>
<line x1="1542.2" y1="462.5" x2="1672.7" y2="462.5" stroke="#2b2b2b" stroke-width="1.5" />
<line x1="1542.2" y1="524.4" x2="1672.7" y2="524.4" stroke="#2b2b2b" stroke-width="1.5" />
<text x="1651.9" y="516.3" font-family="Liberation Sans" font-size="31" font-weight="normal" fill="#2b2b2b" text-anchor="start" textLength="45.7" lengthAdjust="spacingAndGlyphs" transform="rotate(-90 1651.9 516.3)" class="dt">7.3</text>
<line x1="1441.5" y1="436.2" x2="1441.5" y2="550.7" stroke="#2b2b2b" stroke-width="1.5" />
<path d="M1441.5,478.6 L1437.2,456.6 L1445.8,456.6 Z" fill="#2b2b2b"/>
<path d="M1441.5,508.3 L1445.8,530.3 L1437.2,530.3 Z" fill="#2b2b2b"/>
<line x1="1432.4" y1="478.6" x2="1487.3" y2="478.6" stroke="#2b2b2b" stroke-width="1.5" />
<line x1="1432.4" y1="508.3" x2="1487.3" y2="508.3" stroke="#2b2b2b" stroke-width="1.5" />
<text x="1429.8" y="523.2" font-family="Liberation Sans" font-size="31" font-weight="normal" fill="#2b2b2b" text-anchor="start" textLength="60.7" lengthAdjust="spacingAndGlyphs" transform="rotate(-90 1429.8 523.2)" class="dt">3.51</text>
<path d="M1454.1,583.9 A88,88 0 0 0 1569.7,549.5" fill="none" stroke="#2b2b2b" stroke-width="1.3"/>
<path d="M1495.3,594.0 L1473.4,599.0 L1473.2,590.4 Z" fill="#2b2b2b"/>
<path d="M1542.2,580.4 L1558.5,565.0 L1563.1,572.3 Z" fill="#2b2b2b"/>
<line x1="1510.2" y1="531.2" x2="1546.8" y2="587.3" stroke="#2b2b2b" stroke-width="1.5" />
<text x="1495.8" y="578.2" font-family="Liberation Sans" font-size="31" font-weight="normal" fill="#2b2b2b" text-anchor="start" textLength="40.7" lengthAdjust="spacingAndGlyphs" class="dt">33&#176;</text>
<text x="1729.1" y="372.4" font-family="Liberation Sans" font-size="24.5" font-weight="normal" fill="#231815" text-anchor="start" textLength="300.9" lengthAdjust="spacingAndGlyphs" class="lb">Fixing Block Dimensions</text>
<path d="M1839.1,474.7 L1843.0,469.9 L1921.8,469.9 L1926.6,474.7 L1926.6,519.9 L1921.8,524.9 L1866.9,524.9 L1862.8,520.8 L1862.8,486.3 L1850.0,486.3 L1850.0,494.6 L1839.1,494.6 Z" stroke="#2b2b2b" stroke-width="2.8" fill="#efeff2" stroke-linejoin="round" />
<path d="M1876.6,470.5 L1876.6,492.8 L1913.5,492.8 L1913.5,470.5" stroke="#2b2b2b" stroke-width="1.4" fill="none" stroke-linejoin="round" />
<line x1="1883.4" y1="492.8" x2="1883.4" y2="523.5" stroke="#2b2b2b" stroke-width="1.4" />
<line x1="1906.4" y1="492.8" x2="1906.4" y2="523.5" stroke="#2b2b2b" stroke-width="1.4" />
<line x1="1835.9" y1="434.8" x2="1929.8" y2="434.8" stroke="#2b2b2b" stroke-width="1.5" />
<line x1="1839.1" y1="426.0" x2="1839.1" y2="465.0" stroke="#2b2b2b" stroke-width="1.5" />
<line x1="1926.6" y1="426.0" x2="1926.6" y2="465.0" stroke="#2b2b2b" stroke-width="1.5" />
<path d="M1839.1,434.8 L1854.1,431.3 L1854.1,438.3 Z" fill="#2b2b2b"/>
<path d="M1926.6,434.8 L1911.6,438.3 L1911.6,431.3 Z" fill="#2b2b2b"/>
<text x="1859.8" y="420.7" font-family="Liberation Sans" font-size="28.7" font-weight="normal" fill="#2b2b2b" text-anchor="start" textLength="46.1" lengthAdjust="spacingAndGlyphs" class="dt">20.5</text>
<path d="M1983.9,427.4 L1940.5,427.4 L1940.5,513.7" stroke="#2b2b2b" stroke-width="1.5" fill="none" stroke-linejoin="round" />
<path d="M1940.5,469.9 L1937.0,454.9 L1944.0,454.9 Z" fill="#2b2b2b"/>
<path d="M1940.5,492.8 L1944.0,507.8 L1937.0,507.8 Z" fill="#2b2b2b"/>
<text x="1952.0" y="414.5" font-family="Liberation Sans" font-size="28.7" font-weight="normal" fill="#2b2b2b" text-anchor="start" textLength="31.0" lengthAdjust="spacingAndGlyphs" class="dt">5.5</text>
<line x1="1930.7" y1="469.9" x2="1993.6" y2="469.9" stroke="#2b2b2b" stroke-width="1.5" />
<line x1="1921.8" y1="492.8" x2="1948.4" y2="492.8" stroke="#2b2b2b" stroke-width="1.5" />
<line x1="1930.7" y1="524.9" x2="1993.6" y2="524.9" stroke="#2b2b2b" stroke-width="1.5" />
<line x1="1985.3" y1="469.9" x2="1985.3" y2="528.0" stroke="#2b2b2b" stroke-width="1.5" />
<path d="M1985.3,469.9 L1988.8,484.9 L1981.8,484.9 Z" fill="#2b2b2b"/>
<path d="M1985.3,524.9 L1981.8,509.9 L1988.8,509.9 Z" fill="#2b2b2b"/>
<text x="1972.0" y="517.3" font-family="Liberation Sans" font-size="28.7" font-weight="normal" fill="#2b2b2b" text-anchor="start" textLength="41.7" lengthAdjust="spacingAndGlyphs" transform="rotate(-90 1972.0 517.3)" class="dt">12.8</text>
<path d="M1925.4,522.6 L1948.4,546.5 L1966.2,546.5" stroke="#2b2b2b" stroke-width="1.5" fill="none" stroke-linejoin="round" />
<text x="1977.7" y="557.2" font-family="Liberation Sans" font-size="28.7" font-weight="normal" fill="#2b2b2b" text-anchor="start" textLength="32.8" lengthAdjust="spacingAndGlyphs" class="dt">C1</text>
<line x1="1862.8" y1="528.0" x2="1862.8" y2="571.3" stroke="#2b2b2b" stroke-width="1.5" />
<line x1="1926.6" y1="523.5" x2="1926.6" y2="571.3" stroke="#2b2b2b" stroke-width="1.5" />
<line x1="1859.8" y1="563.4" x2="1929.8" y2="563.4" stroke="#2b2b2b" stroke-width="1.5" />
<path d="M1862.8,563.4 L1877.8,559.9 L1877.8,566.9 Z" fill="#2b2b2b"/>
<path d="M1926.6,563.4 L1911.6,566.9 L1911.6,559.9 Z" fill="#2b2b2b"/>
<text x="1884.6" y="548.3" font-family="Liberation Sans" font-size="28.7" font-weight="normal" fill="#2b2b2b" text-anchor="start" textLength="19.5" lengthAdjust="spacingAndGlyphs" class="dt">15</text>
<line x1="1762.3" y1="535.9" x2="1871.3" y2="535.9" stroke="#2b2b2b" stroke-width="1.5" />
<line x1="1839.8" y1="501.3" x2="1839.8" y2="544.8" stroke="#2b2b2b" stroke-width="1.5" />
<line x1="1850.0" y1="501.3" x2="1850.0" y2="544.8" stroke="#2b2b2b" stroke-width="1.5" />
<path d="M1839.8,535.9 L1824.8,539.4 L1824.8,532.4 Z" fill="#2b2b2b"/>
<path d="M1850.0,535.9 L1865.0,532.4 L1865.0,539.4 Z" fill="#2b2b2b"/>
<text x="1774.7" y="521.7" font-family="Liberation Sans" font-size="28.7" font-weight="normal" fill="#2b2b2b" text-anchor="start" textLength="31.9" lengthAdjust="spacingAndGlyphs" class="dt">2.5</text>
<line x1="1756.4" y1="449.0" x2="1756.4" y2="515.5" stroke="#2b2b2b" stroke-width="1.5" />
<path d="M1756.4,469.9 L1752.9,454.9 L1759.9,454.9 Z" fill="#2b2b2b"/>
<path d="M1756.4,494.6 L1759.9,509.6 L1752.9,509.6 Z" fill="#2b2b2b"/>
<line x1="1747.2" y1="469.9" x2="1835.9" y2="469.9" stroke="#2b2b2b" stroke-width="1.5" />
<line x1="1747.2" y1="494.6" x2="1830.5" y2="494.6" stroke="#2b2b2b" stroke-width="1.5" />
<text x="1743.0" y="497.8" font-family="Liberation Sans" font-size="28.7" font-weight="normal" fill="#2b2b2b" text-anchor="start" textLength="31.9" lengthAdjust="spacingAndGlyphs" transform="rotate(-90 1743.0 497.8)" class="dt">5.8</text>
<path d="M1814.6,448.7 L1771.2,448.7 L1771.2,506.6" stroke="#2b2b2b" stroke-width="1.5" fill="none" stroke-linejoin="round" />
<path d="M1771.2,469.9 L1767.7,454.9 L1774.7,454.9 Z" fill="#2b2b2b"/>
<path d="M1771.2,486.3 L1774.7,501.3 L1767.7,501.3 Z" fill="#2b2b2b"/>
<line x1="1763.2" y1="486.3" x2="1839.0" y2="486.3" stroke="#2b2b2b" stroke-width="1.5" />
<text x="1783.6" y="434.8" font-family="Liberation Sans" font-size="28.7" font-weight="normal" fill="#2b2b2b" text-anchor="start" textLength="31.9" lengthAdjust="spacingAndGlyphs" class="dt">3.8</text>
<rect x="1835.0" y="678.5" width="87.0" height="168.9" rx="0" stroke="#2b2b2b" stroke-width="3.2" fill="#efeff2"/>
<line x1="1838.7" y1="678.5" x2="1838.7" y2="847.4" stroke="#2b2b2b" stroke-width="1.5" />
<line x1="1917.8" y1="678.5" x2="1917.8" y2="847.4" stroke="#2b2b2b" stroke-width="1.5" />
<circle cx="1889.2" cy="703.8" r="19.3" stroke="#2b2b2b" stroke-width="1.5" fill="none"/>
<circle cx="1889.2" cy="703.8" r="11.1" stroke="#2b2b2b" stroke-width="1.5" fill="none"/>
<line x1="1860.3" y1="703.8" x2="1918.2" y2="703.8" stroke="#2b2b2b" stroke-width="1.2" />
<circle cx="1889.2" cy="822.7" r="19.3" stroke="#2b2b2b" stroke-width="1.5" fill="none"/>
<circle cx="1889.2" cy="822.7" r="11.1" stroke="#2b2b2b" stroke-width="1.5" fill="none"/>
<line x1="1860.3" y1="822.7" x2="1918.2" y2="822.7" stroke="#2b2b2b" stroke-width="1.2" />
<line x1="1889.2" y1="675.3" x2="1889.2" y2="734.2" stroke="#2b2b2b" stroke-width="1.2" />
<line x1="1889.2" y1="792.0" x2="1889.2" y2="853.0" stroke="#2b2b2b" stroke-width="1.2" />
<line x1="1889.2" y1="645.3" x2="1889.2" y2="666.8" stroke="#2b2b2b" stroke-width="1.2" />
<line x1="1819.6" y1="763.2" x2="1939.6" y2="763.2" stroke="#2b2b2b" stroke-width="1.5" />
<line x1="1832.5" y1="625.4" x2="1925.7" y2="625.4" stroke="#2b2b2b" stroke-width="1.5" />
<line x1="1835.0" y1="615.3" x2="1835.0" y2="671.0" stroke="#2b2b2b" stroke-width="1.5" />
<line x1="1922.0" y1="615.3" x2="1922.0" y2="671.0" stroke="#2b2b2b" stroke-width="1.5" />
<path d="M1835.0,625.4 L1850.0,621.9 L1850.0,628.9 Z" fill="#2b2b2b"/>
<path d="M1922.0,625.4 L1907.0,628.9 L1907.0,621.9 Z" fill="#2b2b2b"/>
<text x="1854.5" y="611.7" font-family="Liberation Sans" font-size="28.7" font-weight="normal" fill="#2b2b2b" text-anchor="start" textLength="46.5" lengthAdjust="spacingAndGlyphs" class="dt">20.5</text>
<line x1="1867.8" y1="654.5" x2="1998.5" y2="654.5" stroke="#2b2b2b" stroke-width="1.5" />
<path d="M1889.2,654.5 L1874.2,658.0 L1874.2,651.0 Z" fill="#2b2b2b"/>
<path d="M1922.0,654.5 L1937.0,651.0 L1937.0,658.0 Z" fill="#2b2b2b"/>
<text x="1954.6" y="640.0" font-family="Liberation Sans" font-size="28.7" font-weight="normal" fill="#2b2b2b" text-anchor="start" textLength="31.0" lengthAdjust="spacingAndGlyphs" class="dt">7.5</text>
<path d="M1765.0,673.2 L1836.8,673.2 L1924.6,725.2" stroke="#2b2b2b" stroke-width="1.5" fill="none" stroke-linejoin="round" />
<path d="M1871.0,693.5 L1856.3,688.9 L1859.9,682.8 Z" fill="#2b2b2b"/>
<path d="M1906.0,713.7 L1920.7,718.3 L1917.1,724.4 Z" fill="#2b2b2b"/>
<text x="1765.0" y="659.7" font-family="Liberation Sans" font-size="28.7" font-weight="normal" fill="#2b2b2b" text-anchor="start" textLength="60.0" lengthAdjust="spacingAndGlyphs" class="dt">2-&#216;9</text>
<path d="M1731.8,775.4 L1823.9,775.4 L1916.0,841.8" stroke="#2b2b2b" stroke-width="1.5" fill="none" stroke-linejoin="round" />
<path d="M1880.2,816.0 L1866.0,810.1 L1870.1,804.4 Z" fill="#2b2b2b"/>
<path d="M1898.0,829.0 L1912.2,834.9 L1908.1,840.6 Z" fill="#2b2b2b"/>
<text x="1730.7" y="761.7" font-family="Liberation Sans" font-size="28.7" font-weight="normal" fill="#2b2b2b" text-anchor="start" textLength="81.4" lengthAdjust="spacingAndGlyphs" class="dt">2-&#216;5.5</text>
<line x1="1927.8" y1="703.8" x2="1990.0" y2="703.8" stroke="#2b2b2b" stroke-width="1.5" />
<line x1="1927.8" y1="822.7" x2="1990.0" y2="822.7" stroke="#2b2b2b" stroke-width="1.5" />
<line x1="1981.8" y1="703.8" x2="1981.8" y2="822.7" stroke="#2b2b2b" stroke-width="1.5" />
<path d="M1981.8,703.8 L1985.3,718.8 L1978.3,718.8 Z" fill="#2b2b2b"/>
<path d="M1981.8,822.7 L1978.3,807.7 L1985.3,807.7 Z" fill="#2b2b2b"/>
<text x="1969.2" y="776.0" font-family="Liberation Sans" font-size="28.7" font-weight="normal" fill="#2b2b2b" text-anchor="start" textLength="25.7" lengthAdjust="spacingAndGlyphs" transform="rotate(-90 1969.2 776.0)" class="dt">28</text>
<line x1="1929.5" y1="678.5" x2="2042.4" y2="678.5" stroke="#2b2b2b" stroke-width="1.5" />
<line x1="1929.5" y1="847.4" x2="2042.4" y2="847.4" stroke="#2b2b2b" stroke-width="1.5" />
<line x1="2033.8" y1="678.5" x2="2033.8" y2="847.4" stroke="#2b2b2b" stroke-width="1.5" />
<path d="M2033.8,678.5 L2037.3,693.5 L2030.3,693.5 Z" fill="#2b2b2b"/>
<path d="M2033.8,847.4 L2030.3,832.4 L2037.3,832.4 Z" fill="#2b2b2b"/>
<text x="2020.6" y="776.0" font-family="Liberation Sans" font-size="28.7" font-weight="normal" fill="#2b2b2b" text-anchor="start" textLength="25.7" lengthAdjust="spacingAndGlyphs" transform="rotate(-90 2020.6 776.0)" class="dt">40</text>
<path d="M1532.4,736.4 L1541.1,736.4 L1541.1,741.1 L1539.3,741.1 L1539.3,748.1 L1542.9,750.2 L1550.5,750.2 L1554.1,748.1 L1554.1,741.1 L1552.3,741.1 L1552.3,736.4 L1602.5,736.4 L1602.5,741.1 L1600.7,741.1 L1600.7,748.1 L1604.3,750.2 L1611.9,750.2 L1615.5,748.1 L1615.5,741.1 L1613.7,741.1 L1613.7,736.4 L1622.4,736.4 A10,10 0 0 1 1632.4,746.4 L1632.4,754.7 L1627.7,754.7 L1627.7,752.9 L1620.7,752.9 L1618.6,756.5 L1618.6,764.1 L1620.7,767.7 L1627.7,767.7 L1627.7,765.9 L1632.4,765.9 L1632.4,816.1 L1627.7,816.1 L1627.7,814.3 L1620.7,814.3 L1618.6,817.9 L1618.6,825.5 L1620.7,829.1 L1627.7,829.1 L1627.7,827.3 L1632.4,827.3 L1632.4,835.6 A10,10 0 0 1 1622.4,845.6 L1613.7,845.6 L1613.7,840.9 L1615.5,840.9 L1615.5,833.9 L1611.9,831.8 L1604.3,831.8 L1600.7,833.9 L1600.7,840.9 L1602.5,840.9 L1602.5,845.6 L1552.3,845.6 L1552.3,840.9 L1554.1,840.9 L1554.1,833.9 L1550.5,831.8 L1542.9,831.8 L1539.3,833.9 L1539.3,840.9 L1541.1,840.9 L1541.1,845.6 L1532.4,845.6 A10,10 0 0 1 1522.4,835.6 L1522.4,827.3 L1527.1,827.3 L1527.1,829.1 L1534.1,829.1 L1536.2,825.5 L1536.2,817.9 L1534.1,814.3 L1527.1,814.3 L1527.1,816.1 L1522.4,816.1 L1522.4,765.9 L1527.1,765.9 L1527.1,767.7 L1534.1,767.7 L1536.2,764.1 L1536.2,756.5 L1534.1,752.9 L1527.1,752.9 L1527.1,754.7 L1522.4,754.7 L1522.4,746.4 A10,10 0 0 1 1532.4,736.4 Z" fill="#efeff2" stroke="#2b2b2b" stroke-width="2.6" stroke-linejoin="round"/>
<line x1="1532.4" y1="736.4" x2="1622.4" y2="736.4" stroke="#2b2b2b" stroke-width="2.6" />
<line x1="1532.4" y1="845.6" x2="1622.4" y2="845.6" stroke="#2b2b2b" stroke-width="2.6" />
<line x1="1577.4" y1="731.7" x2="1577.4" y2="852.3" stroke="#2b2b2b" stroke-width="1.5" />
<line x1="1517.9" y1="790.9" x2="1638.8" y2="790.9" stroke="#2b2b2b" stroke-width="1.5" />
<text x="1564.4" y="663.1" font-family="Liberation Serif" font-size="26" font-weight="bold" fill="#2b2b2b" text-anchor="start" textLength="33.1" lengthAdjust="spacingAndGlyphs" >A&#8211;A</text>
<line x1="1522.0" y1="714.8" x2="1633.3" y2="714.8" stroke="#2b2b2b" stroke-width="1.5" />
<line x1="1522.0" y1="706.5" x2="1522.0" y2="735.9" stroke="#2b2b2b" stroke-width="1.5" />
<line x1="1633.3" y1="706.5" x2="1633.3" y2="730.0" stroke="#2b2b2b" stroke-width="1.5" />
<path d="M1522.0,714.8 L1544.0,710.5 L1544.0,719.1 Z" fill="#2b2b2b"/>
<path d="M1633.3,714.8 L1611.3,719.1 L1611.3,710.5 Z" fill="#2b2b2b"/>
<text x="1560.3" y="702.4" font-family="Liberation Sans" font-size="31" font-weight="normal" fill="#2b2b2b" text-anchor="start" textLength="35.1" lengthAdjust="spacingAndGlyphs" class="dt">52</text>
<line x1="1442.4" y1="735.9" x2="1522.0" y2="735.9" stroke="#2b2b2b" stroke-width="1.5" />
<line x1="1442.4" y1="846.7" x2="1522.0" y2="846.7" stroke="#2b2b2b" stroke-width="1.5" />
<line x1="1450.7" y1="735.9" x2="1450.7" y2="846.7" stroke="#2b2b2b" stroke-width="1.5" />
<path d="M1450.7,735.9 L1455.0,757.9 L1446.4,757.9 Z" fill="#2b2b2b"/>
<path d="M1450.7,846.7 L1446.4,824.7 L1455.0,824.7 Z" fill="#2b2b2b"/>
<text x="1439.1" y="806.8" font-family="Liberation Sans" font-size="31" font-weight="normal" fill="#2b2b2b" text-anchor="start" textLength="35.2" lengthAdjust="spacingAndGlyphs" transform="rotate(-90 1439.1 806.8)" class="dt">52</text>
<line x1="1494.7" y1="717.9" x2="1494.7" y2="864.7" stroke="#2b2b2b" stroke-width="1.5" />
<path d="M1494.7,760.7 L1490.4,738.7 L1499.0,738.7 Z" fill="#2b2b2b"/>
<path d="M1494.7,821.9 L1499.0,843.9 L1490.4,843.9 Z" fill="#2b2b2b"/>
<line x1="1485.8" y1="760.7" x2="1511.0" y2="760.7" stroke="#2b2b2b" stroke-width="1.5" />
<line x1="1519.0" y1="760.7" x2="1541.6" y2="760.7" stroke="#2b2b2b" stroke-width="1.5" />
<line x1="1485.8" y1="821.9" x2="1511.0" y2="821.9" stroke="#2b2b2b" stroke-width="1.5" />
<line x1="1519.0" y1="821.9" x2="1541.6" y2="821.9" stroke="#2b2b2b" stroke-width="1.5" />
<text x="1482.5" y="808.9" font-family="Liberation Sans" font-size="31" font-weight="normal" fill="#2b2b2b" text-anchor="start" textLength="35.2" lengthAdjust="spacingAndGlyphs" transform="rotate(-90 1482.5 808.9)" class="dt">29</text>
<line x1="1546.8" y1="829.5" x2="1546.8" y2="912.0" stroke="#2b2b2b" stroke-width="1.5" />
<line x1="1608.4" y1="829.5" x2="1608.4" y2="912.0" stroke="#2b2b2b" stroke-width="1.5" />
<line x1="1505.5" y1="902.5" x2="1650.2" y2="902.5" stroke="#2b2b2b" stroke-width="1.5" />
<path d="M1546.8,902.5 L1524.8,906.8 L1524.8,898.2 Z" fill="#2b2b2b"/>
<path d="M1608.4,902.5 L1630.4,898.2 L1630.4,906.8 Z" fill="#2b2b2b"/>
<text x="1560.9" y="889.5" font-family="Liberation Sans" font-size="31" font-weight="normal" fill="#2b2b2b" text-anchor="start" textLength="34.5" lengthAdjust="spacingAndGlyphs" class="dt">29</text>
<circle cx="1624.4" cy="820.2" r="20.7" stroke="#2b2b2b" stroke-width="1.5" fill="none"/>
<text x="1652.3" y="841.3" font-family="Liberation Serif" font-size="25" font-weight="bold" fill="#2b2b2b" text-anchor="start" textLength="12" lengthAdjust="spacingAndGlyphs" >B</text>
<text x="247.6" y="830.1" font-family="Liberation Sans" font-size="34.5" font-weight="normal" fill="#231815" text-anchor="start" textLength="188.9" lengthAdjust="spacingAndGlyphs" class="lb">Fixing Form</text>
<path d="M235.5,855.2 L252.3,855.2 L252.3,865.2 L248.6,865.2 L248.6,880.0 L256.3,884.5 L272.3,884.5 L280.0,880.0 L280.0,865.2 L276.3,865.2 L276.3,855.2 L374.7,855.2 L374.7,865.2 L371.0,865.2 L371.0,880.0 L378.7,884.5 L394.7,884.5 L402.4,880.0 L402.4,865.2 L398.7,865.2 L398.7,855.2 L415.5,855.2 A21,21 0 0 1 436.5,876.2 L436.5,891.9 L426.5,891.9 L426.5,888.2 L411.7,888.2 L407.2,895.9 L407.2,911.9 L411.7,919.6 L426.5,919.6 L426.5,915.9 L436.5,915.9 L436.5,1014.3 L426.5,1014.3 L426.5,1010.6 L411.7,1010.6 L407.2,1018.3 L407.2,1034.3 L411.7,1042.0 L426.5,1042.0 L426.5,1038.3 L436.5,1038.3 L436.5,1054.0 A21,21 0 0 1 415.5,1075.0 L398.7,1075.0 L398.7,1065.0 L402.4,1065.0 L402.4,1050.2 L394.7,1045.7 L378.7,1045.7 L371.0,1050.2 L371.0,1065.0 L374.7,1065.0 L374.7,1075.0 L276.3,1075.0 L276.3,1065.0 L280.0,1065.0 L280.0,1050.2 L272.3,1045.7 L256.3,1045.7 L248.6,1050.2 L248.6,1065.0 L252.3,1065.0 L252.3,1075.0 L235.5,1075.0 A21,21 0 0 1 214.5,1054.0 L214.5,1038.3 L224.5,1038.3 L224.5,1042.0 L239.3,1042.0 L243.8,1034.3 L243.8,1018.3 L239.3,1010.6 L224.5,1010.6 L224.5,1014.3 L214.5,1014.3 L214.5,915.9 L224.5,915.9 L224.5,919.6 L239.3,919.6 L243.8,911.9 L243.8,895.9 L239.3,888.2 L224.5,888.2 L224.5,891.9 L214.5,891.9 L214.5,876.2 A21,21 0 0 1 235.5,855.2 Z" fill="#efeff2" stroke="#2b2b2b" stroke-width="3" stroke-linejoin="round"/>
<line x1="235.5" y1="855.2" x2="415.5" y2="855.2" stroke="#2b2b2b" stroke-width="3" />
<line x1="235.5" y1="1075.0" x2="415.5" y2="1075.0" stroke="#2b2b2b" stroke-width="3" />
<line x1="326.6" y1="846.1" x2="326.6" y2="1085.3" stroke="#2b2b2b" stroke-width="1.4" />
<line x1="206.4" y1="965.1" x2="446.3" y2="965.1" stroke="#2b2b2b" stroke-width="1.4" />
<path d="M154.3,1018.6 L233.1,1018.6 L235.7,1021.7 L235.7,1043.9 L225.2,1043.9 L225.2,1035.2 L212.7,1035.2 L212.7,1068.4 L209.3,1072.9 L154.3,1072.9 L149.8,1068.4 L149.8,1023.2 Z" stroke="#2b2b2b" stroke-width="3" fill="#efeff2" stroke-linejoin="round" />
<path d="M163.0,1018.6 L163.0,1040.5 L201.0,1040.5 L201.0,1018.6" stroke="#2b2b2b" stroke-width="1.5" fill="none" stroke-linejoin="round" />
<line x1="169.8" y1="1040.5" x2="169.8" y2="1072.9" stroke="#2b2b2b" stroke-width="1.5" />
<line x1="193.9" y1="1040.5" x2="193.9" y2="1072.9" stroke="#2b2b2b" stroke-width="1.5" />
<path d="M496.7,1018.6 L417.9,1018.6 L415.3,1021.7 L415.3,1043.9 L425.8,1043.9 L425.8,1035.2 L438.3,1035.2 L438.3,1068.4 L441.7,1072.9 L496.7,1072.9 L501.2,1068.4 L501.2,1023.2 Z" stroke="#2b2b2b" stroke-width="3" fill="#efeff2" stroke-linejoin="round" />
<path d="M488.0,1018.6 L488.0,1040.5 L450.0,1040.5 L450.0,1018.6" stroke="#2b2b2b" stroke-width="1.5" fill="none" stroke-linejoin="round" />
<line x1="481.2" y1="1040.5" x2="481.2" y2="1072.9" stroke="#2b2b2b" stroke-width="1.5" />
<line x1="457.1" y1="1040.5" x2="457.1" y2="1072.9" stroke="#2b2b2b" stroke-width="1.5" />
<rect x="582.4" y="1091" width="923.6" height="55.09999999999991" fill="#dfd7e2"/>
<line x1="582.4" y1="1091.0" x2="582.4" y2="1307.1" stroke="#333" stroke-width="1.8" />
<line x1="695.0" y1="1091.0" x2="695.0" y2="1307.1" stroke="#333" stroke-width="1.8" />
<line x1="776.2" y1="1091.0" x2="776.2" y2="1307.1" stroke="#333" stroke-width="1.8" />
<line x1="857.1" y1="1091.0" x2="857.1" y2="1307.1" stroke="#333" stroke-width="1.8" />
<line x1="939.0" y1="1091.0" x2="939.0" y2="1307.1" stroke="#333" stroke-width="1.8" />
<line x1="1019.6" y1="1091.0" x2="1019.6" y2="1307.1" stroke="#333" stroke-width="1.8" />
<line x1="1100.6" y1="1091.0" x2="1100.6" y2="1307.1" stroke="#333" stroke-width="1.8" />
<line x1="1182.0" y1="1091.0" x2="1182.0" y2="1307.1" stroke="#333" stroke-width="1.8" />
<line x1="1263.0" y1="1091.0" x2="1263.0" y2="1307.1" stroke="#333" stroke-width="1.8" />
<line x1="1343.9" y1="1091.0" x2="1343.9" y2="1307.1" stroke="#333" stroke-width="1.8" />
<line x1="1424.4" y1="1091.0" x2="1424.4" y2="1307.1" stroke="#333" stroke-width="1.8" />
<line x1="1506.0" y1="1091.0" x2="1506.0" y2="1307.1" stroke="#333" stroke-width="1.8" />
<line x1="582.4" y1="1091.0" x2="1506.0" y2="1091.0" stroke="#333" stroke-width="1.8" />
<line x1="582.4" y1="1146.1" x2="1506.0" y2="1146.1" stroke="#333" stroke-width="1.8" />
<line x1="582.4" y1="1200.0" x2="1506.0" y2="1200.0" stroke="#333" stroke-width="1.8" />
<line x1="582.4" y1="1253.5" x2="1506.0" y2="1253.5" stroke="#333" stroke-width="1.8" />
<line x1="582.4" y1="1307.1" x2="1506.0" y2="1307.1" stroke="#333" stroke-width="1.8" />
<text x="594.4" y="1116.2" font-family="Liberation Sans" font-size="21" font-weight="normal" fill="#231815" text-anchor="start" textLength="88.6" lengthAdjust="spacingAndGlyphs" >Effective</text>
<text x="605.0" y="1139.9" font-family="Liberation Sans" font-size="21" font-weight="normal" fill="#231815" text-anchor="start" textLength="67" lengthAdjust="spacingAndGlyphs" >Stroke</text>
<text x="719.2" y="1130.9" font-family="Liberation Sans" font-size="27" font-weight="normal" fill="#231815" text-anchor="start" textLength="29.4" lengthAdjust="spacingAndGlyphs" class="tb">50</text>
<text x="799.5" y="1131.5" font-family="Liberation Sans" font-size="27" font-weight="normal" fill="#231815" text-anchor="start" textLength="38.4" lengthAdjust="spacingAndGlyphs" class="tb">100</text>
<text x="879.7" y="1131.5" font-family="Liberation Sans" font-size="27" font-weight="normal" fill="#231815" text-anchor="start" textLength="41.9" lengthAdjust="spacingAndGlyphs" class="tb">150</text>
<text x="952.1" y="1131.5" font-family="Liberation Sans" font-size="27" font-weight="normal" fill="#231815" text-anchor="start" textLength="45.2" lengthAdjust="spacingAndGlyphs" class="tb">200</text>
<text x="1034.0" y="1130.4" font-family="Liberation Sans" font-size="27" font-weight="normal" fill="#231815" text-anchor="start" textLength="46.4" lengthAdjust="spacingAndGlyphs" class="tb">250</text>
<text x="1119.3" y="1127.6" font-family="Liberation Sans" font-size="27" font-weight="normal" fill="#231815" text-anchor="start" textLength="43.7" lengthAdjust="spacingAndGlyphs" class="tb">300</text>
<text x="1198.6" y="1128.0" font-family="Liberation Sans" font-size="27" font-weight="normal" fill="#231815" text-anchor="start" textLength="47.5" lengthAdjust="spacingAndGlyphs" class="tb">350</text>
<text x="1281.4" y="1128.0" font-family="Liberation Sans" font-size="27" font-weight="normal" fill="#231815" text-anchor="start" textLength="43.8" lengthAdjust="spacingAndGlyphs" class="tb">400</text>
<text x="1361.2" y="1128.0" font-family="Liberation Sans" font-size="27" font-weight="normal" fill="#231815" text-anchor="start" textLength="46.3" lengthAdjust="spacingAndGlyphs" class="tb">450</text>
<text x="1443.1" y="1128.0" font-family="Liberation Sans" font-size="27" font-weight="normal" fill="#231815" text-anchor="start" textLength="43.7" lengthAdjust="spacingAndGlyphs" class="tb">500</text>
<text x="714.7" y="1185.1" font-family="Liberation Sans" font-size="27" font-weight="normal" fill="#231815" text-anchor="start" textLength="41.8" lengthAdjust="spacingAndGlyphs" class="tb">314</text>
<text x="795.0" y="1185.1" font-family="Liberation Sans" font-size="27" font-weight="normal" fill="#231815" text-anchor="start" textLength="48.6" lengthAdjust="spacingAndGlyphs" class="tb">364</text>
<text x="880.9" y="1185.1" font-family="Liberation Sans" font-size="27" font-weight="normal" fill="#231815" text-anchor="start" textLength="42.9" lengthAdjust="spacingAndGlyphs" class="tb">414</text>
<text x="952.1" y="1185.1" font-family="Liberation Sans" font-size="27" font-weight="normal" fill="#231815" text-anchor="start" textLength="49.7" lengthAdjust="spacingAndGlyphs" class="tb">464</text>
<text x="1034.0" y="1183.8" font-family="Liberation Sans" font-size="27" font-weight="normal" fill="#231815" text-anchor="start" textLength="43.7" lengthAdjust="spacingAndGlyphs" class="tb">514</text>
<text x="1117.4" y="1180.9" font-family="Liberation Sans" font-size="27" font-weight="normal" fill="#231815" text-anchor="start" textLength="47.5" lengthAdjust="spacingAndGlyphs" class="tb">564</text>
<text x="1199.8" y="1181.0" font-family="Liberation Sans" font-size="27" font-weight="normal" fill="#231815" text-anchor="start" textLength="43.2" lengthAdjust="spacingAndGlyphs" class="tb">614</text>
<text x="1277.8" y="1181.0" font-family="Liberation Sans" font-size="27" font-weight="normal" fill="#231815" text-anchor="start" textLength="49.8" lengthAdjust="spacingAndGlyphs" class="tb">664</text>
<text x="1361.9" y="1181.0" font-family="Liberation Sans" font-size="27" font-weight="normal" fill="#231815" text-anchor="start" textLength="44.0" lengthAdjust="spacingAndGlyphs" class="tb">714</text>
<text x="1440.0" y="1181.0" font-family="Liberation Sans" font-size="27" font-weight="normal" fill="#231815" text-anchor="start" textLength="49.2" lengthAdjust="spacingAndGlyphs" class="tb">764</text>
<text x="714.0" y="1238.3" font-family="Liberation Sans" font-size="27" font-weight="normal" fill="#231815" text-anchor="start" textLength="50.0" lengthAdjust="spacingAndGlyphs" class="tb">269</text>
<text x="795.0" y="1238.3" font-family="Liberation Sans" font-size="27" font-weight="normal" fill="#231815" text-anchor="start" textLength="44.0" lengthAdjust="spacingAndGlyphs" class="tb">319</text>
<text x="880.9" y="1238.3" font-family="Liberation Sans" font-size="27" font-weight="normal" fill="#231815" text-anchor="start" textLength="49.1" lengthAdjust="spacingAndGlyphs" class="tb">369</text>
<text x="952.1" y="1238.3" font-family="Liberation Sans" font-size="27" font-weight="normal" fill="#231815" text-anchor="start" textLength="45.2" lengthAdjust="spacingAndGlyphs" class="tb">419</text>
<text x="1034.0" y="1237.3" font-family="Liberation Sans" font-size="27" font-weight="normal" fill="#231815" text-anchor="start" textLength="49.3" lengthAdjust="spacingAndGlyphs" class="tb">469</text>
<text x="1119.3" y="1234.9" font-family="Liberation Sans" font-size="27" font-weight="normal" fill="#231815" text-anchor="start" textLength="43.7" lengthAdjust="spacingAndGlyphs" class="tb">519</text>
<text x="1197.4" y="1235.0" font-family="Liberation Sans" font-size="27" font-weight="normal" fill="#231815" text-anchor="start" textLength="50.4" lengthAdjust="spacingAndGlyphs" class="tb">569</text>
<text x="1281.0" y="1235.0" font-family="Liberation Sans" font-size="27" font-weight="normal" fill="#231815" text-anchor="start" textLength="44.9" lengthAdjust="spacingAndGlyphs" class="tb">619</text>
<text x="1358.3" y="1235.0" font-family="Liberation Sans" font-size="27" font-weight="normal" fill="#231815" text-anchor="start" textLength="51.7" lengthAdjust="spacingAndGlyphs" class="tb">669</text>
<text x="1442.4" y="1235.0" font-family="Liberation Sans" font-size="27" font-weight="normal" fill="#231815" text-anchor="start" textLength="44.4" lengthAdjust="spacingAndGlyphs" class="tb">719</text>
<text x="709.0" y="1292.5" font-family="Liberation Sans" font-size="27" font-weight="normal" fill="#231815" text-anchor="start" textLength="56.6" lengthAdjust="spacingAndGlyphs" class="tb">2.38</text>
<text x="789.3" y="1292.5" font-family="Liberation Sans" font-size="27" font-weight="normal" fill="#231815" text-anchor="start" textLength="55.4" lengthAdjust="spacingAndGlyphs" class="tb">2.67</text>
<text x="871.8" y="1292.5" font-family="Liberation Sans" font-size="27" font-weight="normal" fill="#231815" text-anchor="start" textLength="55.9" lengthAdjust="spacingAndGlyphs" class="tb">2.96</text>
<text x="951.6" y="1292.5" font-family="Liberation Sans" font-size="27" font-weight="normal" fill="#231815" text-anchor="start" textLength="54.8" lengthAdjust="spacingAndGlyphs" class="tb">3.26</text>
<text x="1037.6" y="1291.4" font-family="Liberation Sans" font-size="27" font-weight="normal" fill="#231815" text-anchor="start" textLength="54.1" lengthAdjust="spacingAndGlyphs" class="tb">3.55</text>
<text x="1113.3" y="1290.2" font-family="Liberation Sans" font-size="27" font-weight="normal" fill="#231815" text-anchor="start" textLength="54.5" lengthAdjust="spacingAndGlyphs" class="tb">3.87</text>
<text x="1198.1" y="1290.2" font-family="Liberation Sans" font-size="27" font-weight="normal" fill="#231815" text-anchor="start" textLength="48.5" lengthAdjust="spacingAndGlyphs" class="tb">4.17</text>
<text x="1276.2" y="1290.2" font-family="Liberation Sans" font-size="27" font-weight="normal" fill="#231815" text-anchor="start" textLength="54.5" lengthAdjust="spacingAndGlyphs" class="tb">4.48</text>
<text x="1357.1" y="1290.2" font-family="Liberation Sans" font-size="27" font-weight="normal" fill="#231815" text-anchor="start" textLength="54.1" lengthAdjust="spacingAndGlyphs" class="tb">4.78</text>
<text x="1438.8" y="1290.2" font-family="Liberation Sans" font-size="27" font-weight="normal" fill="#231815" text-anchor="start" textLength="52.8" lengthAdjust="spacingAndGlyphs" class="tb">5.09</text>
<text x="635.6" y="1185.1" font-family="Liberation Sans" font-size="27" font-weight="normal" fill="#231815" text-anchor="start" textLength="15.3" lengthAdjust="spacingAndGlyphs" class="tb">L</text>
<text x="635.6" y="1238.3" font-family="Liberation Sans" font-size="27" font-weight="normal" fill="#231815" text-anchor="start" textLength="27.1" lengthAdjust="spacingAndGlyphs" class="tb">L1</text>
<text x="634.4" y="1292.5" font-family="Liberation Sans" font-size="27" font-weight="normal" fill="#231815" text-anchor="start" textLength="34" lengthAdjust="spacingAndGlyphs" class="tb">KG</text>
</svg></body></html>
